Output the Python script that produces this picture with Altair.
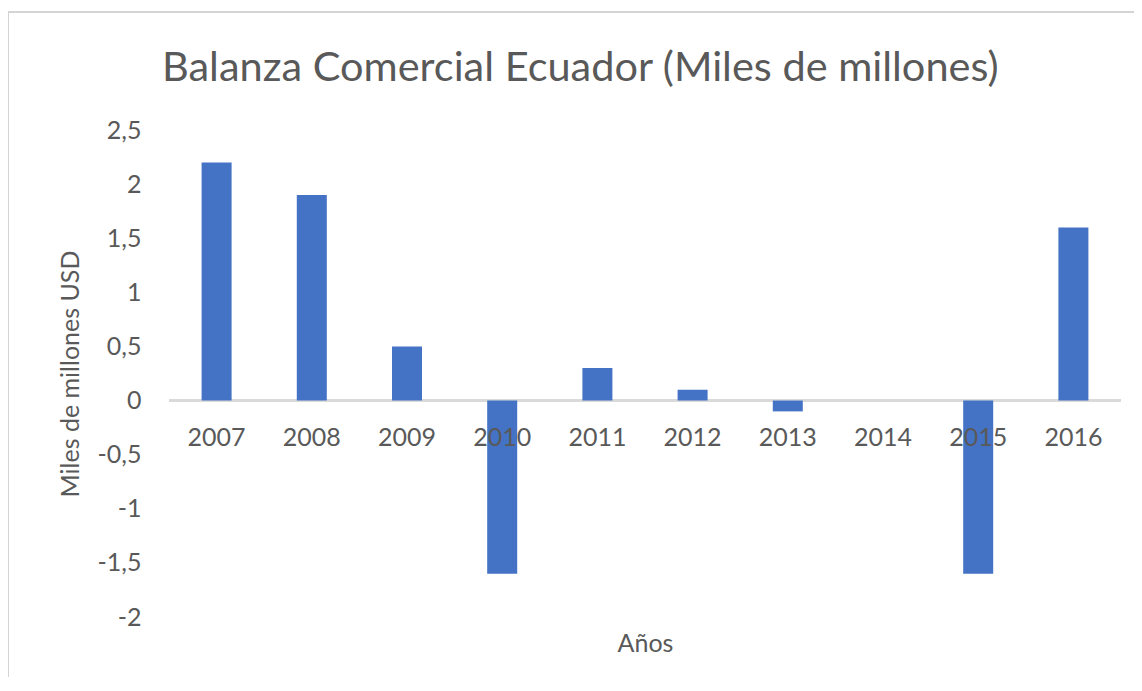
import altair as alt
import pandas as pd

years = ["2007", "2008", "2009", "2010", "2011", "2012", "2013", "2014", "2015", "2016"]
values = [2.2, 1.9, 0.5, -1.6, 0.3, 0.1, -0.1, 0.0, -1.6, 1.6]
y_ticks = [-2, -1.5, -1, -0.5, 0, 0.5, 1, 1.5, 2, 2.5]

df = pd.DataFrame({"year": years, "value": values})

FONT = "Lato"
GRAY = "#595959"
W, H = 952, 487

x_enc = alt.X("year:N", sort=years, scale=alt.Scale(paddingInner=0, paddingOuter=0),
              axis=alt.Axis(title="Años", labels=False, ticks=False, domain=False,
                            titleFont=FONT, titleFontSize=25, titleColor=GRAY,
                            titleFontWeight="normal", titleY=26, titleBaseline="middle"))
y_scale = alt.Scale(domain=[-2, 2.5], nice=False, zero=False)

bars = alt.Chart(df).mark_bar(color="#4472C4", size=30).encode(
    x=x_enc,
    y=alt.Y("value:Q", scale=y_scale,
            axis=alt.Axis(title="Miles de millones USD", values=y_ticks, grid=False,
                          domain=False, ticks=False, labelPadding=28,
                          labelExpr="replace(toString(datum.value), '.', ',')",
                          labelFont=FONT, labelFontSize=25, labelColor=GRAY,
                          titleFont=FONT, titleFontSize=25, titleColor=GRAY,
                          titleFontWeight="normal", titleX=-99, titleY=H / 2,
                          titleAngle=270, titleBaseline="middle", titleAlign="center")),
)

zero = alt.Chart(df).mark_rule(color="#d9d9d9", strokeWidth=2).encode(
    y=alt.datum(0),
    x=alt.value(0), x2=alt.value(W),
)

labels = alt.Chart(df).mark_text(font=FONT, fontSize=25, color=GRAY, dy=37,
                                 baseline="middle").encode(
    x=alt.X("year:N", sort=years),
    y=alt.datum(0),
    text="year:N",
)

border_top = alt.Chart(df).mark_rule(color="#d4d4d4", strokeWidth=2).encode(
    x=alt.value(-161), x2=alt.value(980), y=alt.value(-118)
)
border_left = alt.Chart(df).mark_rule(color="#d4d4d4", strokeWidth=2).encode(
    x=alt.value(-161), y=alt.value(-118), y2=alt.value(570)
)

chart = alt.layer(border_top, border_left, zero, bars, labels).properties(
    width=W, height=H,
    title=alt.TitleParams("Balanza Comercial Ecuador (Miles de millones)", anchor="start",
                          dx=155, dy=111, offset=0, font=FONT, fontSize=41.5, color=GRAY,
                          fontWeight="normal", baseline="alphabetic"),
    autosize=alt.AutoSizeParams(type="none"),
    padding={"left": 161, "top": 122, "right": 13, "bottom": 60},
).configure_view(stroke=None)

chart.save("out.html", embed_options={"renderer": "svg", "actions": False})
